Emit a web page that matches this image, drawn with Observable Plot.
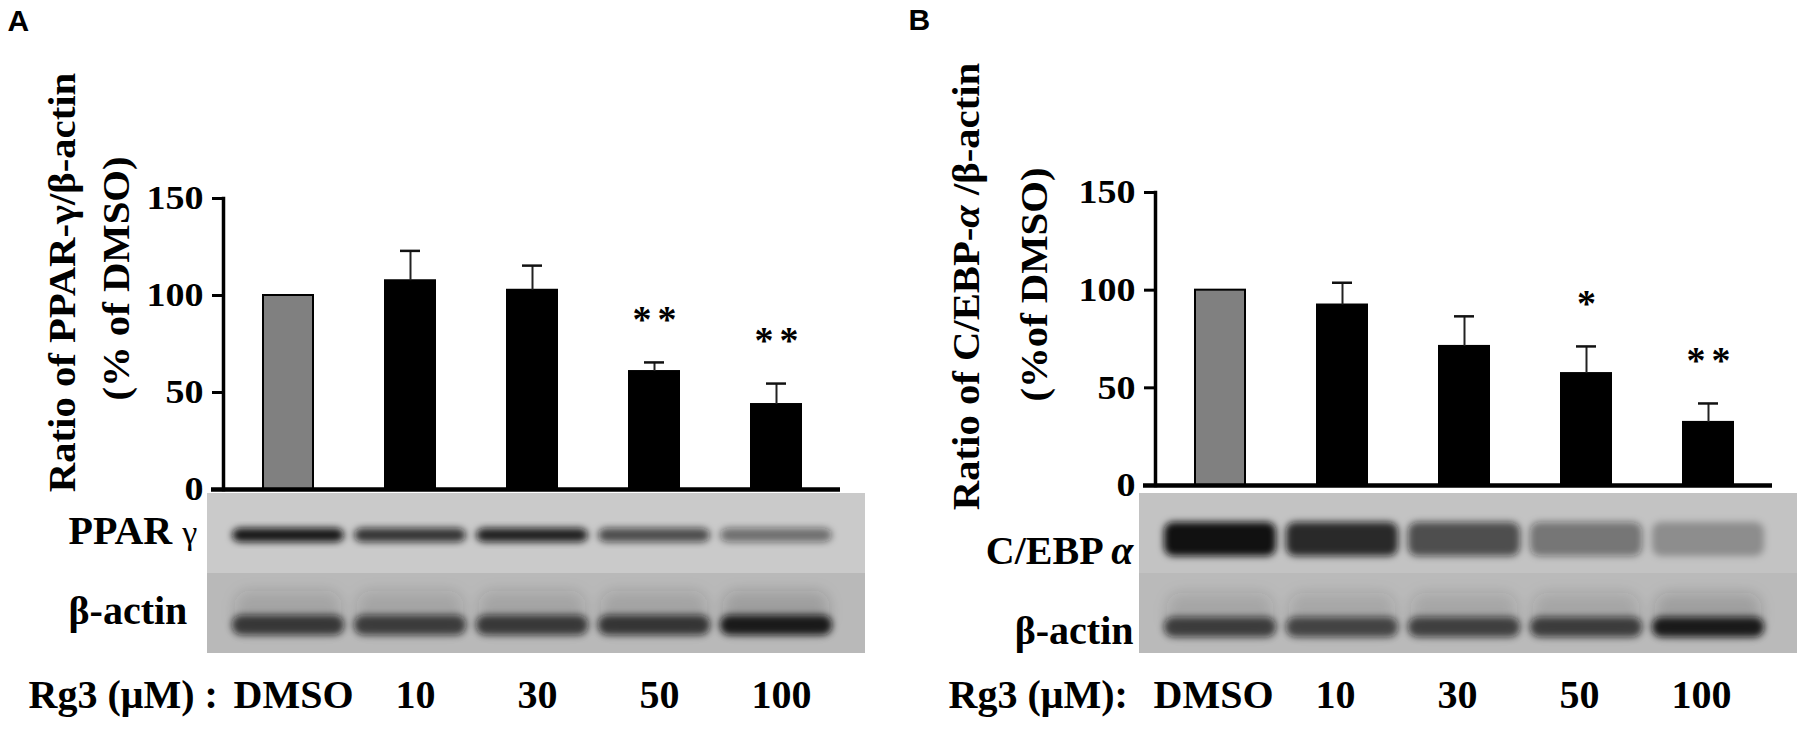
<!DOCTYPE html>
<html><head><meta charset="utf-8">
<script src="https://cdn.jsdelivr.net/npm/d3@7"></script>
<script src="https://cdn.jsdelivr.net/npm/@observablehq/plot@0.6"></script>
<style>
html,body{margin:0;padding:0;background:#fff;}
#fig{position:relative;width:1800px;height:732px;overflow:hidden;background:#fff;}
#fig svg{position:absolute;}
</style></head><body><div id="fig"></div>
<script>
// ---- data ----
const doses = ["DMSO", "10", "30", "50", "100"];
const yTicks = [0, 50, 100, 150];

const ppargMean  = [100, 107.6, 102.7, 60.8, 43.8];
const ppargUpper = [null, 123.0, 115.4, 65.5, 54.6];
const ppargSig   = ["", "", "", "**", "**"];

const cebpaMean  = [100, 92.4, 71.2, 57.3, 32.3];
const cebpaUpper = [null, 103.8, 86.6, 71.2, 42.0];
const cebpaSig   = ["", "", "", "*", "**"];

// blot band darkness (0..1) per lane
const ppargBand  = [0.95, 0.8, 0.9, 0.68, 0.5];
const actinBandA = [0.75, 0.72, 0.74, 0.76, 0.92];
const cebpaBand  = [0.98, 0.85, 0.66, 0.45, 0.28];
const actinBandB = [0.72, 0.68, 0.7, 0.72, 0.92];

const titleA = ["Ratio of PPAR-γ/β-actin", "(% of DMSO)"];
const titleB = ["Ratio of C/EBP-α /β-actin", "(%of DMSO)"];
const rowLabelsA = ["PPAR γ", "β-actin"];
const rowLabelsB = ["C/EBP α", "β-actin"];

// ---- styles ----
const SERIF = "'Liberation Serif','Times New Roman',serif";
const SANS = "'Liberation Sans',Arial,sans-serif";
const GREY = "#808080";
const SVGNS = "http://www.w3.org/2000/svg";

const xOpts = {type: "band", domain: doses, paddingInner: 0.593, paddingOuter: 0.31, axis: null};

function groups(svg, sel) { return svg.querySelectorAll(sel); }
function stretch(svg, sel, k) {
  groups(svg, sel).forEach(g => g.querySelectorAll("text").forEach(t => {
    const tr = t.getAttribute("transform") || "";
    t.setAttribute("transform", (tr + ` scale(${k},1)`).trim());
  }));
}
function styleGlyph(svg, sel, ch, attrs) {
  groups(svg, sel).forEach(g => g.querySelectorAll("text").forEach(t => {
    if (!t.textContent.includes(ch) || t.children.length) return;
    const parts = t.textContent.split(ch);
    t.textContent = "";
    parts.forEach((p, i) => {
      if (i > 0) {
        const ts = document.createElementNS(SVGNS, "tspan");
        for (const [k, v] of Object.entries(attrs)) ts.setAttribute(k, v);
        ts.textContent = ch;
        t.appendChild(ts);
      }
      if (p) t.appendChild(document.createTextNode(p));
    });
  }));
}
const D = name => `g[aria-description="${name}"]`;

function barPanel(cfg) {
  const rows = doses.map((d, i) => ({dose: d, mean: cfg.mean[i], upper: cfg.upper[i], sig: cfg.sig[i]}));
  const err = rows.filter(r => r.upper != null);
  const H = 491;
  const midY = (cfg.top150 + cfg.zero) / 2;
  const svg = Plot.plot({
    width: 868, height: H,
    marginLeft: 223, marginRight: 28, marginTop: cfg.top150, marginBottom: H - cfg.zero,
    style: {background: "transparent", overflow: "visible", fontFamily: SERIF, color: "black"},
    x: xOpts,
    y: {domain: [0, 150], axis: null},
    marks: [
      Plot.barY(rows, {x: "dose", y: "mean", fill: r => r.dose === "DMSO" ? GREY : "black", stroke: "black", strokeWidth: 2}),
      Plot.ruleX(err, {x: "dose", y1: "mean", y2: "upper", stroke: "#222", strokeWidth: 2}),
      Plot.tickY(err, {x: "dose", y: "upper", stroke: "#111", strokeWidth: 2.5, insetLeft: 15, insetRight: 15}),
      Plot.text(rows.filter(r => r.sig), {x: "dose", y: "upper", text: "sig", dy: -43, dx: 3, fontSize: 38, fontWeight: "bold", fontFamily: SERIF, ariaDescription: "stars"}),
      Plot.frame({anchor: "left", strokeWidth: 3.5}),
      Plot.ruleY([0], {strokeWidth: 4.5, insetLeft: -12}),
      Plot.axisY({ticks: yTicks, tickSize: 11, tickPadding: 9, strokeWidth: 3, fontSize: 34, fontWeight: "bold", fontFamily: SERIF, label: null}),
      Plot.text([cfg.letter], {text: d => d, frameAnchor: "top-left", textAnchor: "start", lineAnchor: "bottom",
        dx: cfg.letterX - 223, dy: cfg.letterY - cfg.top150, fontSize: 30, fontWeight: "bold", fontFamily: SANS}),
      Plot.text([cfg.title[0]], {text: d => d, frameAnchor: "left", rotate: -90, textAnchor: "middle", lineAnchor: "bottom",
        dx: cfg.t1x - 223, dy: cfg.t1cy - midY, fontSize: 37, fontWeight: "bold", fontFamily: SERIF, ariaDescription: "ytitle"}),
      Plot.text([cfg.title[1]], {text: d => d, frameAnchor: "left", rotate: -90, textAnchor: "middle", lineAnchor: "bottom",
        dx: cfg.t2x - 223, dy: cfg.t2cy - midY, fontSize: 37, fontWeight: "bold", fontFamily: SERIF, ariaDescription: "ytitle"})
    ]
  });
  stretch(svg, 'g[aria-label="y-axis tick label"]', 1.12);
  stretch(svg, D("ytitle"), 1.1);
  groups(svg, D("stars")).forEach(g => g.querySelectorAll("text").forEach(t => t.style.letterSpacing = "6px"));
  if (cfg.italicAlpha) styleGlyph(svg, D("ytitle"), "α", {"font-style": "italic"});
  return svg;
}

function blotPanel(cfg) {
  const rows = cfg.rowLabels;
  const topBands = doses.map((d, i) => ({dose: d, row: rows[0], v: cfg.topBand[i]}));
  const botBands = doses.map((d, i) => ({dose: d, row: rows[1], v: cfg.actin[i]}));
  const svg = Plot.plot({
    width: 868, height: 252,
    marginLeft: 223, marginRight: 28, marginTop: 13, marginBottom: 79,
    style: {background: "transparent", overflow: "visible", fontFamily: SERIF, color: "black"},
    x: xOpts,
    y: {type: "band", domain: rows, padding: 0, axis: null},
    opacity: {domain: [0, 1], range: [0, 1]},
    marks: [
      Plot.cell(rows, {y: d => d, fill: (d, i) => i === 0 ? cfg.upperColor : cfg.lowerColor, insetLeft: -16, insetRight: -25}),
      // soft halo of the actin "smile"
      Plot.cell(botBands, {x: "dose", y: "row", fill: "#333", fillOpacity: d => d.v * 0.2, insetLeft: -28, insetRight: -28,
        insetTop: cfg.botInset[0] - 24, insetBottom: cfg.botInset[1] + 4, rx: 14, ariaDescription: "halo"}),
      Plot.cell(topBands, {x: "dose", y: "row", fill: "#111", fillOpacity: "v", insetLeft: -31, insetRight: -31,
        insetTop: cfg.topInset[0], insetBottom: cfg.topInset[1], rx: 9, ariaDescription: "bands"}),
      Plot.cell(botBands, {x: "dose", y: "row", fill: "#111", fillOpacity: "v", insetLeft: -31, insetRight: -31,
        insetTop: cfg.botInset[0], insetBottom: cfg.botInset[1], rx: 9, ariaDescription: "bands"}),
      Plot.text(rows, {y: d => d, text: d => d, frameAnchor: "left", textAnchor: cfg.rowAnchor, lineAnchor: "bottom",
        dx: cfg.rowX - 223, dy: cfg.rowDy, fontSize: 40, fontWeight: "bold", fontFamily: SERIF, ariaDescription: "rowlabel"}),
      Plot.axisX({tickSize: 0, tickPadding: 26, fontSize: 40, fontWeight: "bold", fontFamily: SERIF, label: null, dx: cfg.labelDx}),
      Plot.text([cfg.rg3], {text: d => d, frameAnchor: "bottom-left", textAnchor: "start", lineAnchor: "bottom",
        dx: cfg.rg3X - 223, dy: 54, fontSize: 40, fontWeight: "bold", fontFamily: SERIF})
    ]
  });
  const defs = document.createElementNS(SVGNS, "defs");
  const mk = (id, sd) => {
    const f = document.createElementNS(SVGNS, "filter");
    f.setAttribute("id", id);
    f.setAttribute("x", "-0.1"); f.setAttribute("y", "-0.5");
    f.setAttribute("width", "1.2"); f.setAttribute("height", "2");
    const b = document.createElementNS(SVGNS, "feGaussianBlur");
    b.setAttribute("stdDeviation", sd);
    f.appendChild(b);
    defs.appendChild(f);
  };
  mk(`blur${cfg.id}`, "3.5");
  mk(`halo${cfg.id}`, "7");
  svg.insertBefore(defs, svg.firstChild);
  groups(svg, D("bands")).forEach(g => g.setAttribute("filter", `url(#blur${cfg.id})`));
  groups(svg, D("halo")).forEach(g => g.setAttribute("filter", `url(#halo${cfg.id})`));
  if (cfg.greek) styleGlyph(svg, D("rowlabel"), cfg.greek.ch, cfg.greek.attrs);
  return svg;
}

const fig = document.getElementById("fig");
function place(svg, left, top) { svg.style.left = left + "px"; svg.style.top = top + "px"; fig.appendChild(svg); }

place(barPanel({letter: "A", letterX: 7, letterY: 30, mean: ppargMean, upper: ppargUpper, sig: ppargSig,
  top150: 198, zero: 489, title: titleA, t1x: 74, t2x: 128, t1cy: 282, t2cy: 278}), 0, 0);
place(blotPanel({id: "A", rowLabels: rowLabelsA, topBand: ppargBand, actin: actinBandA,
  upperColor: "#cacaca", lowerColor: "#b9b9b9", topInset: [35, 31], botInset: [42, 18],
  rowAnchor: "start", rowX: 68, rowDy: 10, labelDx: 5, rg3: "Rg3 (μM) :", rg3X: 28,
  greek: {ch: "γ", attrs: {"font-size": "34", "font-weight": "normal"}}}), 0, 480);

place(barPanel({letter: "B", letterX: -24, letterY: 29, mean: cebpaMean, upper: cebpaUpper, sig: cebpaSig,
  top150: 192, zero: 485, title: titleB, t1x: 46, t2x: 114, t1cy: 286, t2cy: 284, italicAlpha: true}), 932, 0);
place(blotPanel({id: "B", rowLabels: rowLabelsB, topBand: cebpaBand, actin: actinBandB,
  upperColor: "#c3c3c3", lowerColor: "#bababa", topInset: [29, 17], botInset: [44, 16],
  rowAnchor: "end", rowX: 201, rowDy: 30, labelDx: -7, rg3: "Rg3 (μM):", rg3X: 16,
  greek: {ch: "α", attrs: {"font-style": "italic"}}}), 932, 480);
</script></body></html>
